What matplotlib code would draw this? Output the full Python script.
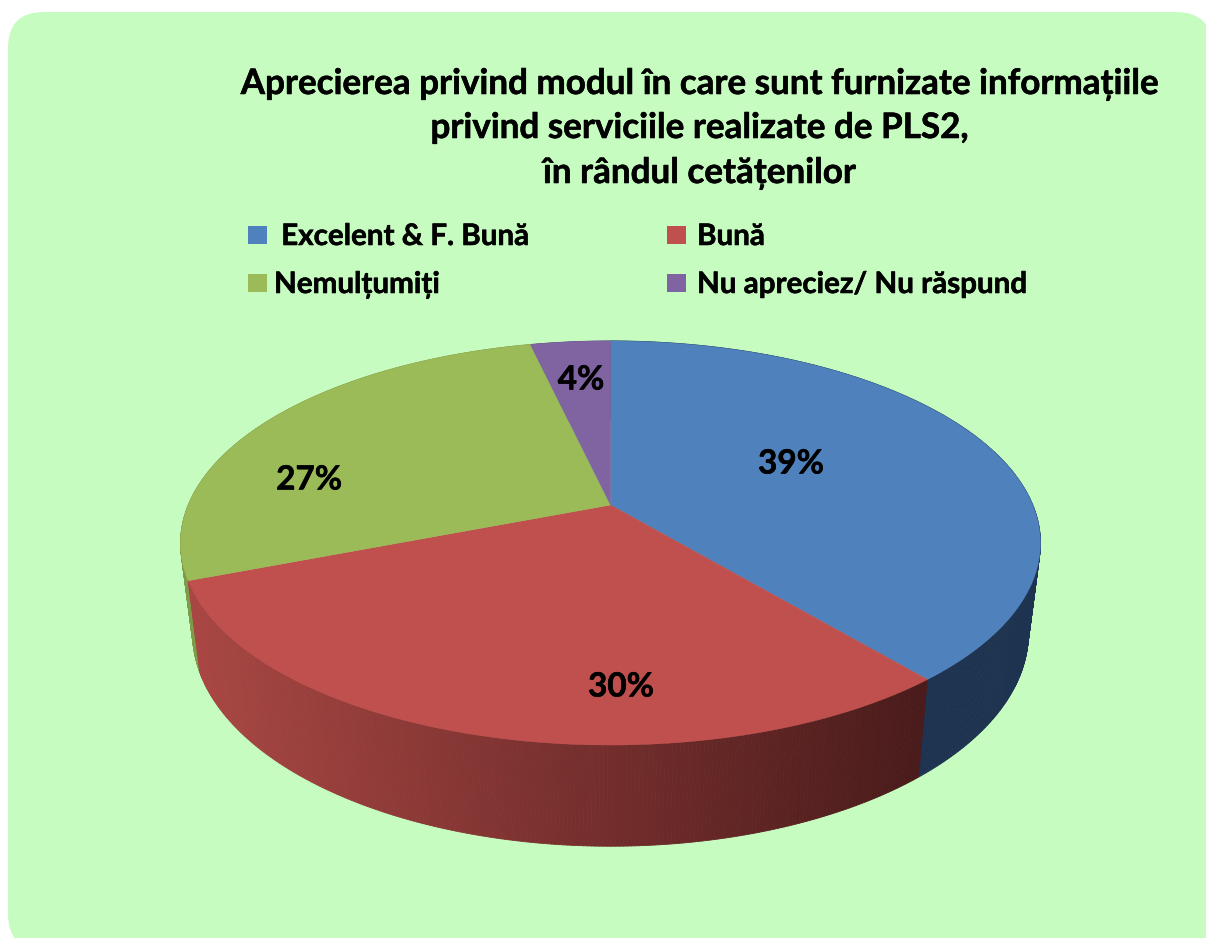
import numpy as np
import matplotlib
matplotlib.use('Agg')
import matplotlib.pyplot as plt
import matplotlib.patheffects as pe
from matplotlib.patches import FancyBboxPatch, Rectangle
from matplotlib.collections import PolyCollection
from matplotlib.colors import to_rgb

plt.rcParams['font.family'] = ['Lato', 'Noto Sans', 'DejaVu Sans']

title_lines = ['Aprecierea privind modul în care sunt furnizate informațiile',
               'privind serviciile realizate de PLS2,',
               'în rândul cetățenilor']
labels = [' Excelent & F. Bună', 'Bună', 'Nemulțumiți', 'Nu apreciez/ Nu răspund']
values = [38.9, 30.2, 27.3, 3.6]
colors = ['#4F81BD', '#C0504D', '#9BBB59', '#8064A2']
side_left = ['#1E3350', '#A84643', '#7F9A48', '#5F4A7A']
side_right = ['#1E3350', '#4A1B1B', '#7F9A48', '#5F4A7A']

# pie shape on the canvas (pixels)
cx, cy = 610.5, 505
A, B, k = 422.3, 194.9, 0.188

# text looks a bit heavier in the original
heavy = [pe.withStroke(linewidth=0.4, foreground='black')]


def top_rim(t):
    # t is the angle clockwise from 12 o'clock
    u, v = np.sin(t), -np.cos(t)
    d = 1 - k * v
    return cx + A * u / d, cy + B * v / d


def bottom_rim(t):
    x, y = top_rim(t)
    return cx + 0.972 * (x - cx), cy + 88 + 1.055 * (y - cy)


fig = plt.figure(figsize=(12.06, 9.38), dpi=100)
ax = fig.add_axes([0, 0, 1, 1])
ax.set_xlim(0, 1206)
ax.set_ylim(938, 0)
ax.axis('off')

ax.add_patch(FancyBboxPatch((8, 12), 1212 - 8, 950 - 12,
                            boxstyle='round,pad=0,rounding_size=36',
                            fc='#C6FCC0', ec='none', zorder=0))

edges = np.cumsum([0] + values) / sum(values) * 2 * np.pi

# side of the pie, one thin strip per step, back strips first
strips = []
for i in range(len(values)):
    ts = np.linspace(edges[i], edges[i + 1], max(int(values[i] * 8), 6))
    for t0, t1 in zip(ts[:-1], ts[1:]):
        x0, y0 = top_rim(t0)
        x1, y1 = top_rim(t1)
        x2, y2 = bottom_rim(t1)
        x3, y3 = bottom_rim(t0)
        f = np.clip((min(x0, x1) - 195) / (920 - 195), 0, 1)
        c = (1 - f) * np.array(to_rgb(side_left[i])) + f * np.array(to_rgb(side_right[i]))
        strips.append((y0 + y1, [(x0, y0), (x1, y1), (x2, y2), (x3, y3)], c))
strips.sort(key=lambda s: s[0])
ax.add_collection(PolyCollection([s[1] for s in strips],
                                 facecolors=[s[2] for s in strips],
                                 edgecolors=[s[2] for s in strips],
                                 linewidths=0.6, zorder=2))

# top face
for i in range(len(values)):
    ts = np.linspace(edges[i], edges[i + 1], 200)
    x, y = top_rim(ts)
    ax.fill(np.r_[cx, x], np.r_[cy, y], color=colors[i], lw=0.3, zorder=3)

pct_xy = [(791, 464), (621, 687), (309, 480), (581, 380)]
for v, (x, y) in zip(values, pct_xy):
    ax.text(x, y, '%d%%' % round(v), ha='center', va='center', fontsize=24,
            fontweight='bold', color='black', zorder=4, path_effects=heavy)

# title
for line, y in zip(title_lines, [84, 128, 173]):
    ax.text(699.5, y, line, ha='center', va='center', fontsize=25.2, fontweight='bold',
            color='black', zorder=4, path_effects=heavy)

# legend
swatch_xy = [(248, 226), (667, 226), (248, 274), (667, 274)]
text_x = [274, 697, 274, 697]
for i in range(4):
    ax.add_patch(Rectangle(swatch_xy[i], 19, 18, fc=colors[i], ec='none', zorder=4))
    ax.text(text_x[i], swatch_xy[i][1] + 10, labels[i], ha='left', va='center', fontsize=21.3,
            fontweight='bold', color='black', zorder=4, path_effects=heavy)

fig.savefig('out.png', dpi=100)
